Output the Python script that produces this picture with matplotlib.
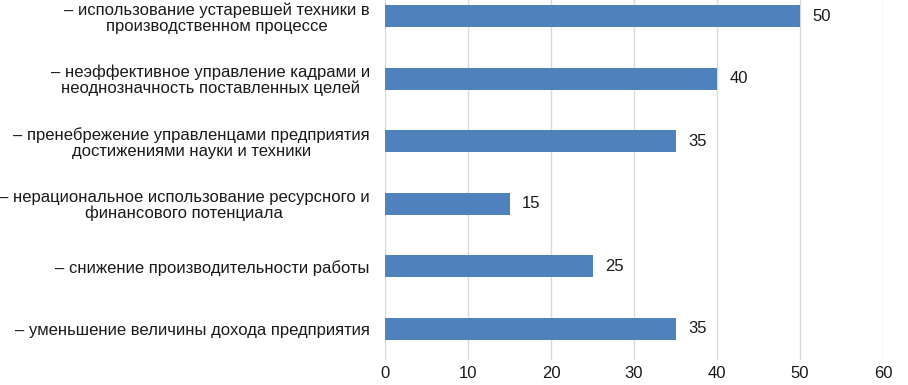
import matplotlib
matplotlib.use("Agg")
import matplotlib.pyplot as plt

plt.rcParams['font.family'] = ['Liberation Sans', 'DejaVu Sans']

# categories from top to bottom
categories = [
    "– использование устаревшей техники в\nпроизводственном процессе",
    "– неэффективное управление кадрами и\nнеоднозначность поставленных целей",
    "– пренебрежение управленцами предприятия\nдостижениями науки и техники",
    "– нерациональное использование ресурсного и\nфинансового потенциала",
    "– снижение производительности работы",
    "– уменьшение величины дохода предприятия",
]
values = [50, 40, 35, 15, 25, 35]
xticks = [0, 10, 20, 30, 40, 50, 60]

bar_color = "#4F81BD"
text_color = "#1a1a1a"
grid_color = "#d9d9d9"
fs = 12

fig = plt.figure(figsize=(9.08, 3.85), dpi=100)
# axes top runs past the picture edge, as in the cropped original
ax = fig.add_axes([385 / 908, 25 / 385, 498 / 908, 375 / 385])

pos = list(range(len(categories)))
ax.barh(pos, values, height=0.355, color=bar_color, zorder=3)
for p, v in zip(pos, values):
    ax.text(v + 1.5, p, str(v), va="center", ha="left", fontsize=fs, color=text_color)

ax.set_xlim(0, 60)
ax.set_ylim(len(categories) - 0.5, -0.5)
ax.set_xticks(xticks)
ax.set_xticklabels([str(t) for t in xticks], fontsize=fs, color=text_color)
ax.set_yticks(pos)
ax.set_yticklabels(categories, fontsize=fs, color=text_color, ma="center")
for lbl in ax.get_yticklabels():
    lbl.set_linespacing(1.05)
ax.tick_params(axis="both", length=0)
ax.tick_params(axis="y", pad=11)
ax.tick_params(axis="x", pad=4)

ax.grid(axis="x", color=grid_color, linewidth=1, zorder=0)
for s in ax.spines.values():
    s.set_visible(False)

fig.savefig("out.png", dpi=100)
